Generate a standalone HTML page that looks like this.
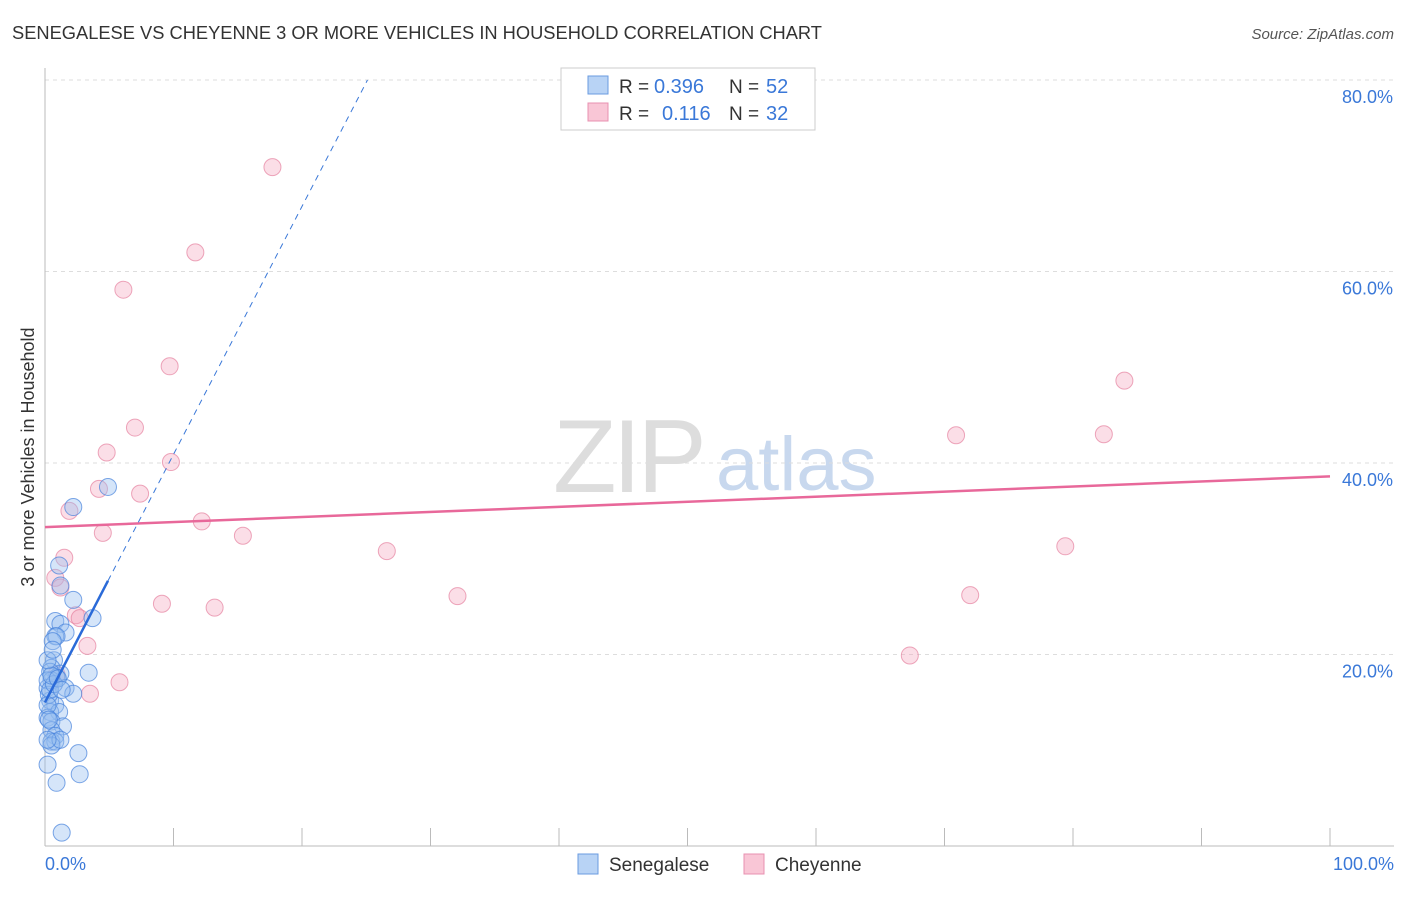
<!DOCTYPE html>
<html><head><meta charset="utf-8"><style>
body{margin:0;background:#fff;font-family:"Liberation Sans",sans-serif}
svg text{font-family:"Liberation Sans",sans-serif}
</style></head><body>
<svg width="1406" height="892" xmlns="http://www.w3.org/2000/svg">
<text x="12" y="39" font-size="18.3" fill="#333">SENEGALESE VS CHEYENNE 3 OR MORE VEHICLES IN HOUSEHOLD CORRELATION CHART</text>
<text x="1394" y="39" font-size="15" fill="#555" text-anchor="end" font-style="italic">Source: ZipAtlas.com</text>
<g><text x="553" y="492" font-size="104" fill="#ddd" font-family="Liberation Serif" letter-spacing="-4">ZIP</text><text x="716" y="490" font-size="76" fill="#c8d8ee">atlas</text></g>
<g id="grid"></g>
<line x1="45" y1="68" x2="45" y2="846" stroke="#bbb"/>
<line x1="45" y1="846" x2="1394" y2="846" stroke="#bbb"/>
<g id="xticks"></g>
<text x="45" y="870" font-size="18" fill="#3a78d8">0.0%</text>
<text x="1394" y="870" font-size="18" fill="#3a78d8" text-anchor="end">100.0%</text>
<text transform="translate(34,457) rotate(-90)" font-size="18" fill="#333" text-anchor="middle">3 or more Vehicles in Household</text>
<g id="pts"></g>
<g id="lines"></g>
<g>
<rect x="561" y="68" width="254" height="62" fill="#fff" stroke="#ccc"/>
<rect x="588" y="76" width="20" height="18" fill="#b8d3f5" stroke="#6a9be0"/>
<rect x="588" y="103" width="20" height="18" fill="#f9c6d6" stroke="#e890b0"/>
<text x="619" y="93" font-size="19" fill="#333">R =</text><text x="654" y="93" font-size="20" fill="#3a78d8">0.396</text>
<text x="729" y="93" font-size="19" fill="#333">N =</text><text x="766" y="93" font-size="20" fill="#3a78d8">52</text>
<text x="619" y="120" font-size="19" fill="#333">R =</text><text x="662" y="120" font-size="20" fill="#3a78d8">0.116</text>
<text x="729" y="120" font-size="19" fill="#333">N =</text><text x="766" y="120" font-size="20" fill="#3a78d8">32</text>
</g>
<g>
<rect x="578" y="854" width="20" height="20" fill="#b8d3f5" stroke="#6a9be0"/>
<text x="609" y="871" font-size="19" fill="#333">Senegalese</text>
<rect x="744" y="854" width="20" height="20" fill="#f9c6d6" stroke="#e890b0"/>
<text x="775" y="871" font-size="19" fill="#333">Cheyenne</text>
</g>
</svg>
<script>
const yTicks=[20,40,60,80];
const blueX=[4.9,2.2,1.1,1.2,2.2,3.7,0.8,1.2,1.6,0.8,0.9,0.6,0.7,0.5,1.2,0.9,0.4,0.5,0.2,1.6,2.2,3.4,0.4,0.8,0.4,1.1,0.2,0.5,1.4,0.5,0.8,0.5,0.8,2.6,2.7,0.2,0.9,1.3,0.2,0.3,0.4,0.2,0.7,0.5,1.0,0.2,0.6,0.3,0.5,1.2,0.2,1.3];
const blueY=[37.5,35.4,29.3,27.2,25.7,23.8,23.5,23.2,22.3,21.9,21.9,21.4,19.4,18.6,18.0,17.6,18.2,17.3,16.5,16.5,15.9,18.1,15.2,14.7,14.0,14.0,13.4,13.0,12.5,12.1,11.5,10.9,10.9,9.7,7.5,8.5,6.6,1.4,17.3,15.8,16.3,14.7,16.9,17.8,17.5,19.4,20.5,13.2,10.5,11.1,11.1,16.3];
const pinkX=[17.7,11.7,6.1,9.7,7.0,4.8,9.8,4.2,7.4,1.9,12.2,4.5,15.4,1.5,26.6,0.8,1.2,9.1,13.2,32.1,2.4,2.7,3.3,5.8,3.5,70.9,82.4,84.0,79.4,72.0,67.3,0.9];
const pinkY=[70.9,62.0,58.1,50.1,43.7,41.1,40.1,37.3,36.8,35.0,33.9,32.7,32.4,30.1,30.8,28.0,27.0,25.3,24.9,26.1,24.1,23.8,20.9,17.1,15.9,42.9,43.0,48.6,31.3,26.2,19.9,17.9];
const blueFit=[15.0,2.59];
const pinkFit=[33.3,0.053];
const X=v=>45+v*12.85, Y=v=>846-v*9.575;
const NS='http://www.w3.org/2000/svg';
function mk(t,a,p){const e=document.createElementNS(NS,t);for(const k in a)e.setAttribute(k,a[k]);p.appendChild(e);return e;}
const grid=document.getElementById('grid');
yTicks.forEach(t=>{
 const l=mk('line',{x1:45,x2:1394,y1:Y(t),y2:Y(t),stroke:'#ddd','stroke-dasharray':'4,4'},grid);
 
 
 const tx=mk('text',{x:1393,y:Y(t)+23,'font-size':18,fill:'#3a78d8','text-anchor':'end'},grid);
 tx.textContent=t.toFixed(1)+'%';
 
 
});
const xt=document.getElementById('xticks');
for(let i=1;i<=10;i++){const l=mk('line',{x1:X(i*10),x2:X(i*10),y1:828,y2:846,stroke:'#bbb'},xt);
 
 }
const pts=document.getElementById('pts');
pinkX.forEach((x,i)=>{const c=mk('circle',{cx:X(x),cy:Y(pinkY[i]),r:8.5,fill:'rgba(244,160,185,0.35)',stroke:'rgba(230,130,160,0.7)'},pts);
 
 });
blueX.forEach((x,i)=>{const c=mk('circle',{cx:X(x),cy:Y(blueY[i]),r:8.5,fill:'rgba(150,190,240,0.4)',stroke:'rgba(70,130,220,0.7)'},pts);
 
 });
const lg=document.getElementById('lines');
const pl=mk('line',{x1:X(0),y1:Y(pinkFit[0]),x2:X(100),y2:Y(pinkFit[0]+pinkFit[1]*100),stroke:'#e8689a','stroke-width':2.5},lg);


const xe=(80-blueFit[0])/blueFit[1];
const bd=mk('line',{x1:X(4.9),y1:Y(blueFit[0]+blueFit[1]*4.9),x2:X(xe),y2:Y(80),stroke:'#3a78d8','stroke-width':1,'stroke-dasharray':'6,5'},lg);


const bl=mk('line',{x1:X(0),y1:Y(blueFit[0]),x2:X(4.9),y2:Y(blueFit[0]+blueFit[1]*4.9),stroke:'#2a6ad8','stroke-width':2.5},lg);


</script>
</body></html>
